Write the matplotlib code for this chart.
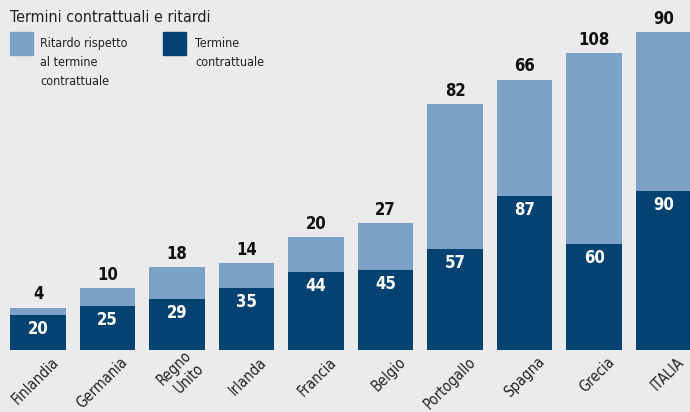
import matplotlib.pyplot as plt
import matplotlib.patches as mpatches
import numpy as np

# data
countries = ["Finlandia", "Germania", "Regno\nUnito", "Irlanda", "Francia",
             "Belgio", "Portogallo", "Spagna", "Grecia", "ITALIA"]
termine = [20, 25, 29, 35, 44, 45, 57, 87, 60, 90]
ritardo = [4, 10, 18, 14, 20, 27, 82, 66, 108, 90]

light = "#7ba2c6"
dark = "#044272"
bg = "#ebebeb"

plt.rcParams['font.family'] = ['DejaVu Sans']
plt.rcParams['font.stretch'] = 'condensed'

fig = plt.figure(figsize=(6.9, 4.12), dpi=100, facecolor=bg)
ax = fig.add_axes([0, 62 / 412, 1, 350 / 412])
ax.set_facecolor(bg)

x = np.arange(len(countries))
ax.bar(x, termine, width=0.8, color=dark)
ax.bar(x, ritardo, width=0.8, bottom=termine, color=light)

for xi, t, r in zip(x, termine, ritardo):
    ax.annotate(str(t), (xi, t), xytext=(0, -10), textcoords="offset points",
                ha="center", va="center", color="white", fontsize=12, fontweight="bold")
    ax.annotate(str(r), (xi, t + r), xytext=(0, 3), textcoords="offset points",
                ha="center", va="bottom", color="#111111", fontsize=12, fontweight="bold")

ax.set_xlim(-0.547, 9.38)
ax.set_ylim(0, 198)
ax.set_xticks(x + 0.26)
ax.set_xticklabels(countries, rotation=45, ha="right", va="center",
                   rotation_mode="anchor", fontsize=10.5, color="#222222",
                   linespacing=1.25)
ax.tick_params(axis="x", length=0, pad=7)
ax.set_yticks([])
for s in ax.spines.values():
    s.set_visible(False)

# subtitle and legend
fig.text(10 / 690, 1 - 17 / 412, "Termini contrattuali e ritardi", fontsize=11.5,
         color="#222222", va="center", ha="left")
fig.patches.append(mpatches.Rectangle((10 / 690, 1 - 55 / 412), 23 / 690, 23 / 412,
                                      transform=fig.transFigure, color=light))
fig.patches.append(mpatches.Rectangle((163 / 690, 1 - 55 / 412), 23 / 690, 23 / 412,
                                      transform=fig.transFigure, color=dark))
fig.text(40 / 690, 1 - 37 / 412, "Ritardo rispetto\nal termine\ncontrattuale",
         fontsize=9, color="#222222", va="top", ha="left", linespacing=1.6)
fig.text(195 / 690, 1 - 37 / 412, "Termine\ncontrattuale",
         fontsize=9, color="#222222", va="top", ha="left", linespacing=1.6)

fig.savefig("out.png", dpi=100, facecolor=bg)
